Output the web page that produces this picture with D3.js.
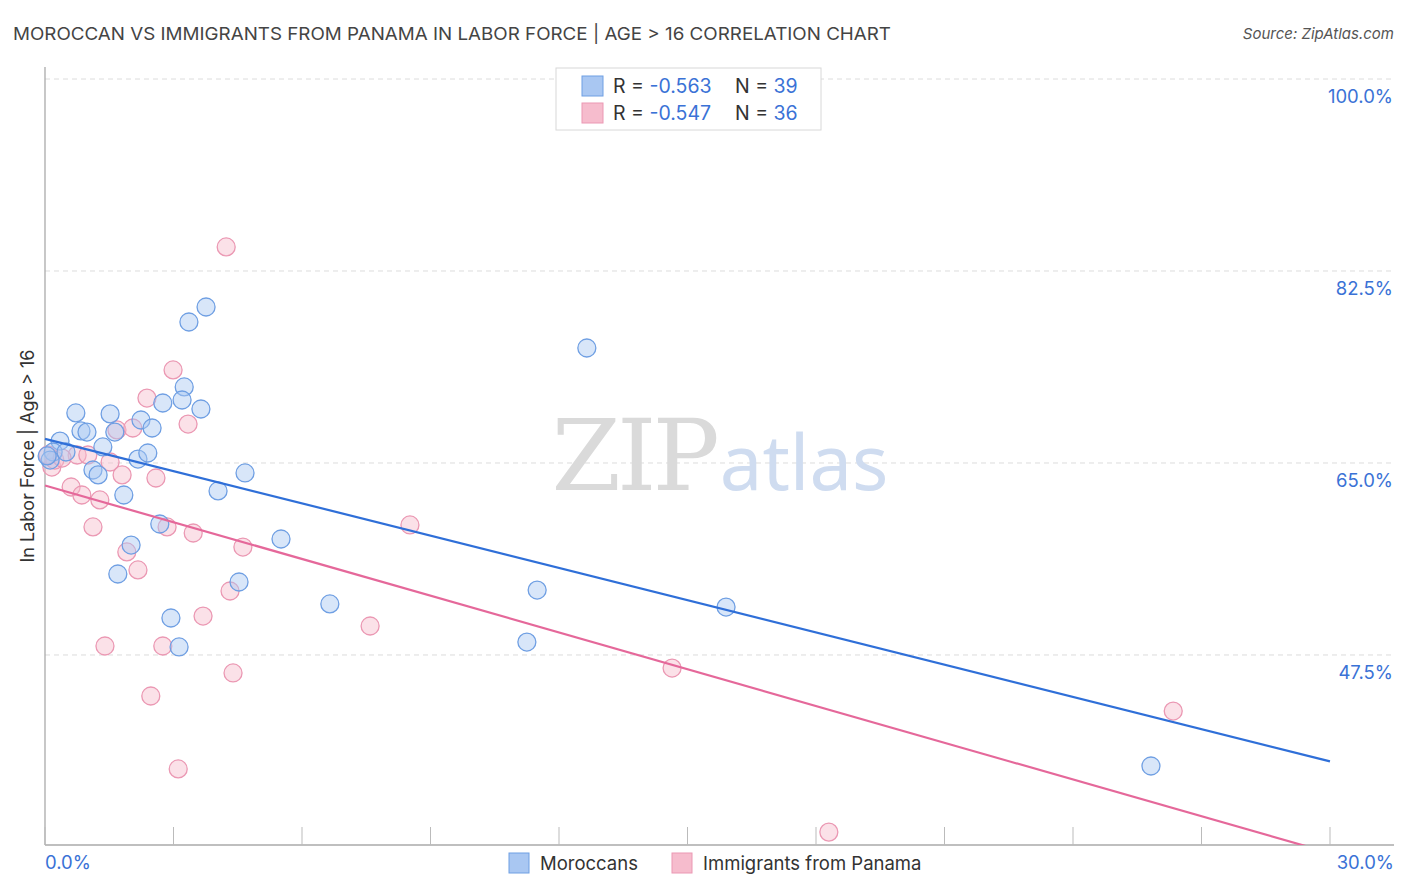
<!DOCTYPE html>
<html><head><meta charset="utf-8">
<script src="https://cdn.jsdelivr.net/npm/d3@7"></script>
<style>body{margin:0;background:#fff;}svg{display:block;font-family:Inter,"Noto Sans",sans-serif;}</style>
</head><body><svg id="c" width="1406" height="892"></svg>
<script>
const blueX = [0.72,0.84,0.98,1.52,1.63,2.24,2.50,2.75,3.25,3.20,3.64,3.36,3.76,1.35,0.35,1.12,1.24,2.17,2.40,1.84,4.04,4.67,5.51,2.68,2.01,1.70,4.53,2.94,3.13,6.65,11.25,11.49,15.90,25.82,12.65,0.19,0.12,0.49,0.05];
const blueY = [69.56,67.92,67.82,69.47,67.82,68.92,68.19,70.47,71.93,70.74,69.92,77.85,79.22,66.46,67.00,64.36,63.91,65.36,65.91,62.08,62.45,64.09,58.07,59.44,57.52,54.88,54.15,50.87,48.23,52.15,48.68,53.42,51.87,37.38,75.48,66.00,65.27,66.00,65.64];
const pinkX = [4.23,2.99,2.38,3.34,1.68,2.05,0.75,1.00,1.52,1.80,2.59,0.61,0.86,1.28,1.12,2.85,3.46,4.62,1.91,2.17,4.32,3.69,1.40,2.75,4.39,2.47,3.11,8.52,7.59,14.64,26.34,18.30,0.16,0.23,0.07,0.40];
const pinkY = [84.69,73.48,70.92,68.55,68.01,68.19,65.73,65.73,65.09,63.91,63.63,62.81,62.08,61.63,59.17,59.17,58.62,57.34,56.89,55.25,53.33,51.05,48.32,48.32,45.86,43.76,37.11,59.35,50.14,46.31,42.39,31.36,64.63,65.27,65.73,65.45];
const blueTrendX = [0, 30];
const blueTrendY = [67.2, 37.8];
const pinkTrendX = [0, 30];
const pinkTrendY = [62.95, 29.45];
const yTicks = [47.5, 65, 82.5, 100];
const xTicks = [0,3,6,9,12,15,18,21,24,27,30];
const seriesNames = ["Moroccans", "Immigrants from Panama"];
const rValues = ["-0.563", "-0.547"];
const nValues = ["39", "36"];

const svg = d3.select("#c");
const x = d3.scaleLinear().domain([0,30]).range([45,1330]);
const y = d3.scaleLinear().domain([30.18,100]).range([845,79]);
const blueFill="#a9c7f2", blueStroke="#6f9fe3", blueLine="#2f6fd8";
const pinkFill="#f6bccd", pinkStroke="#eb98b3", pinkLine="#e5689a";
const blueText="#3a72d6";

// title
svg.append("text").attr("x",13).attr("y",40).attr("font-size",17.5).attr("fill","#444")
  .attr("textLength",878).attr("lengthAdjust","spacingAndGlyphs")
  .text("MOROCCAN VS IMMIGRANTS FROM PANAMA IN LABOR FORCE | AGE > 16 CORRELATION CHART");
svg.append("text").attr("x",1394).attr("y",39).attr("text-anchor","end").attr("font-size",15)
  .attr("font-style","italic").attr("fill","#555").text("Source: ZipAtlas.com");

// gridlines
svg.append("g").selectAll("line").data(yTicks).join("line")
  .attr("x1",45).attr("x2",1394).attr("y1",d=>y(d)).attr("y2",d=>y(d))
  .attr("stroke","#dcdcdc").attr("stroke-dasharray","5,4");
svg.append("g").selectAll("text").data(yTicks).join("text")
  .attr("x",1393).attr("y",d=>y(d)+24).attr("text-anchor","end").attr("font-size",18.5)
  .attr("fill",blueText).text(d=>d.toFixed(1)+"%");

// watermark
const wm = svg.append("text").attr("x",720).attr("y",490).attr("text-anchor","middle");
wm.append("tspan").attr("font-family","'DejaVu Serif','Liberation Serif',serif").attr("font-size",100).attr("fill","#dadada").attr("letter-spacing",-4).text("ZIP");
wm.append("tspan").attr("font-family","'Noto Sans',sans-serif").attr("font-size",76).attr("fill","#cfdcf0").attr("dx",4).text("atlas");

// axes
svg.append("line").attr("x1",45).attr("x2",45).attr("y1",67).attr("y2",845).attr("stroke","#aaa").attr("stroke-width",1.3);
svg.append("line").attr("x1",45).attr("x2",1394).attr("y1",845).attr("y2",845).attr("stroke","#aaa").attr("stroke-width",1.3);
svg.append("g").selectAll("line").data(xTicks).join("line")
  .attr("x1",d=>x(d)).attr("x2",d=>x(d)).attr("y1",827).attr("y2",845).attr("stroke","#bbb");
svg.append("text").attr("x",45).attr("y",869).attr("font-size",18.5).attr("fill",blueText).text(xTicks[0].toFixed(1)+"%");
svg.append("text").attr("x",1394).attr("y",869).attr("text-anchor","end").attr("font-size",18.5).attr("fill",blueText).text(xTicks[xTicks.length-1].toFixed(1)+"%");
svg.append("text").attr("transform","translate(34,456) rotate(-90)").attr("text-anchor","middle")
  .attr("font-size",18).attr("fill","#333").text("In Labor Force | Age > 16");

// clip
svg.append("clipPath").attr("id","pc").append("rect").attr("x",0).attr("y",60).attr("width",1406).attr("height",785);
const plot = svg.append("g").attr("clip-path","url(#pc)");

const blue = blueX.map((v,i)=>[v,blueY[i]]);
const pink = pinkX.map((v,i)=>[v,pinkY[i]]);
plot.append("g").selectAll("circle").data(pink).join("circle")
  .attr("cx",d=>x(d[0])).attr("cy",d=>y(d[1])).attr("r",9)
  .attr("fill",pinkFill).attr("fill-opacity",0.45).attr("stroke",pinkStroke).attr("stroke-width",1.3);
plot.append("g").selectAll("circle").data(blue).join("circle")
  .attr("cx",d=>x(d[0])).attr("cy",d=>y(d[1])).attr("r",9)
  .attr("fill",blueFill).attr("fill-opacity",0.45).attr("stroke",blueStroke).attr("stroke-width",1.3);

const line = d3.line().x(d=>x(d[0])).y(d=>y(d[1]));
plot.append("path").datum(blueTrendX.map((v,i)=>[v,blueTrendY[i]])).attr("d",line)
  .attr("fill","none").attr("stroke",blueLine).attr("stroke-width",2.2);
plot.append("path").datum(pinkTrendX.map((v,i)=>[v,pinkTrendY[i]])).attr("d",line)
  .attr("fill","none").attr("stroke",pinkLine).attr("stroke-width",2.2);

// top legend
const lg = svg.append("g");
lg.append("rect").attr("x",556).attr("y",68).attr("width",265).attr("height",62)
  .attr("fill","#fff").attr("stroke","#d8d8d8");
[0,1].forEach(i=>{
  const yy = 76 + i*27;
  lg.append("rect").attr("x",582).attr("y",yy).attr("width",21).attr("height",20)
    .attr("fill",i?pinkFill:blueFill).attr("stroke",i?pinkStroke:blueStroke);
  const t = lg.append("text").attr("x",613).attr("y",yy+17).attr("font-size",19.5);
  t.append("tspan").attr("fill","#333").text("R = ");
  t.append("tspan").attr("fill",blueText).text(rValues[i]);
  const t2 = lg.append("text").attr("x",735).attr("y",yy+17).attr("font-size",19.5);
  t2.append("tspan").attr("fill","#333").text("N = ");
  t2.append("tspan").attr("fill",blueText).text(nValues[i]);
});

// bottom legend
const bl = svg.append("g");
const bx = [509, 672];
seriesNames.forEach((s,i)=>{
  bl.append("rect").attr("x",bx[i]).attr("y",853).attr("width",20).attr("height",20)
    .attr("fill",i?pinkFill:blueFill).attr("stroke",i?pinkStroke:blueStroke);
  bl.append("text").attr("x",bx[i]+31).attr("y",870).attr("font-size",18.5).attr("fill","#333").text(s);
});
</script></body></html>
